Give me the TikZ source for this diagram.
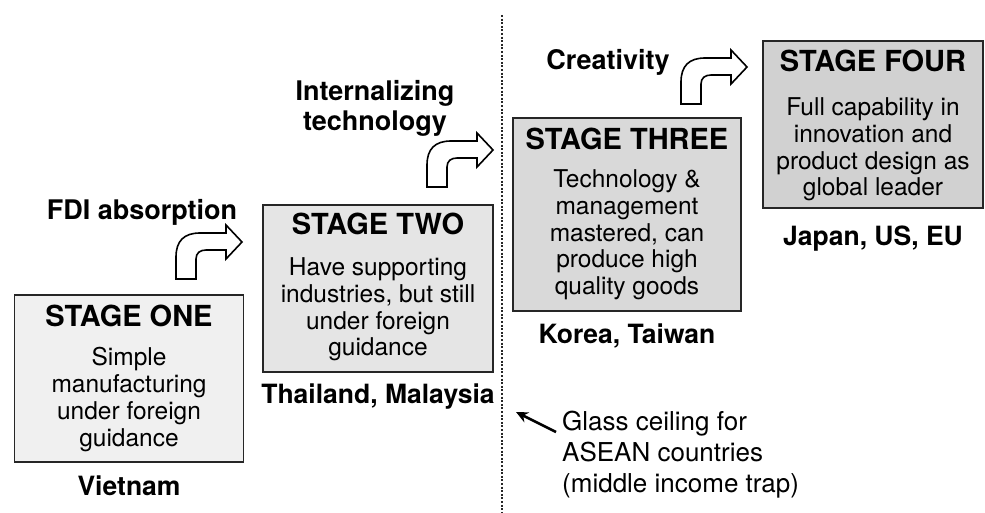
\documentclass[tikz,border=0pt]{standalone}
\usepackage{fontspec}
\setmainfont{TeX Gyre Heros}
\usetikzlibrary{positioning,arrows.meta}

\tikzset{
  stagebox/.style={rectangle, draw=black!85, line width=1.6pt},
  stagetitle/.style={font=\fontsize{29}{31}\selectfont\bfseries, inner sep=0pt},
  stagetext/.style={font=\fontsize{24.5}{26.8}\selectfont, align=center, inner sep=0pt},
  country/.style={font=\fontsize{26.5}{30}\selectfont\bfseries, inner sep=0pt},
  steplabel/.style={font=\fontsize{27}{30}\selectfont\bfseries, align=center, inner sep=0pt},
  bentarrow/.pic={
    \draw[line width=1.6pt, fill=white, line join=miter]
      (0,0) -- (0,-22) .. controls (0,-38) and (8,-46) .. (24,-46)
      -- (50,-46) -- (50,-54) -- (66,-37) -- (50,-20) -- (50,-29)
      -- (30,-29) .. controls (24,-29) and (20,-26) .. (20,-20)
      -- (20,0) -- cycle;
  }
}

\begin{document}
\begin{tikzpicture}[x=1pt, y=-1pt]
    \useasboundingbox (0,0) rectangle (985,513);

    % the four stages
    \node[stagebox, fill=gray!12, minimum width=229pt, minimum height=167pt] (s1) at (129,378.5) {};
    \node[stagebox, fill=gray!20, minimum width=230pt, minimum height=167pt] (s2) at (378,288.5) {};
    \node[stagebox, fill=gray!30, minimum width=228pt, minimum height=193pt] (s3) at (627,214.5) {};
    \node[stagebox, fill=gray!36, minimum width=220pt, minimum height=167pt] (s4) at (873,124.5) {};

    \node[stagetitle, below=11pt of s1.north] (t1) {STAGE ONE};
    \node[stagetitle, below=9pt of s2.north] (t2) {STAGE TWO};
    \node[stagetitle, below=11pt of s3.north] (t3) {STAGE THREE};
    \node[stagetitle, below=10pt of s4.north] (t4) {STAGE FOUR};

    \node[stagetext, below=20pt of t1] (b1) {Simple\\manufacturing\\under foreign\\guidance};
    \node[stagetext, below=22pt of t2] (b2) {Have supporting\\industries, but still\\under foreign\\guidance};
    \node[stagetext, below=19pt of t3] (b3) {Technology \&\\management\\mastered, can\\produce high\\quality goods};
    \node[stagetext, below=25pt of t4] (b4) {Full capability in\\innovation and\\product design as\\global leader};

    \node[country, below=13pt of s1.south] (c1) {Vietnam};
    \node[country, below=11pt of s2.south] (c2) {Thailand, Malaysia};
    \node[country, below=12pt of s3.south] (c3) {Korea, Taiwan};
    \node[country, below=17pt of s4.south] (c4) {Japan, US, EU};

    % steps between stages
    \node[steplabel] (l1) at (142,212) {FDI absorption};
    \node[steplabel] (l2) at (375,108) {Internalizing\\technology};
    \node[steplabel] (l3) at (608,62) {Creativity};

    \pic at (176,279) {bentarrow};
    \pic at (427,187) {bentarrow};
    \pic at (681,104) {bentarrow};

    % glass ceiling
    \coordinate (ltop) at (502,15);
    \coordinate (lbot) at (502,513);
    \draw[line width=2.2pt, black!85, dash pattern=on 2pt off 1.6pt] (ltop) -- (lbot);

    \node[anchor=west, font=\fontsize{26}{31}\selectfont, align=left, inner sep=0pt] (gc) at (562,455)
      {Glass ceiling for\\ASEAN countries\\(middle income trap)};
    \coordinate (gctail) at (556,432);
    \coordinate (ceil) at (516,412);
    \draw[line width=2.6pt, -{Stealth[length=12pt,width=11pt]}] (gctail) -- (ceil);
\end{tikzpicture}
\end{document}
